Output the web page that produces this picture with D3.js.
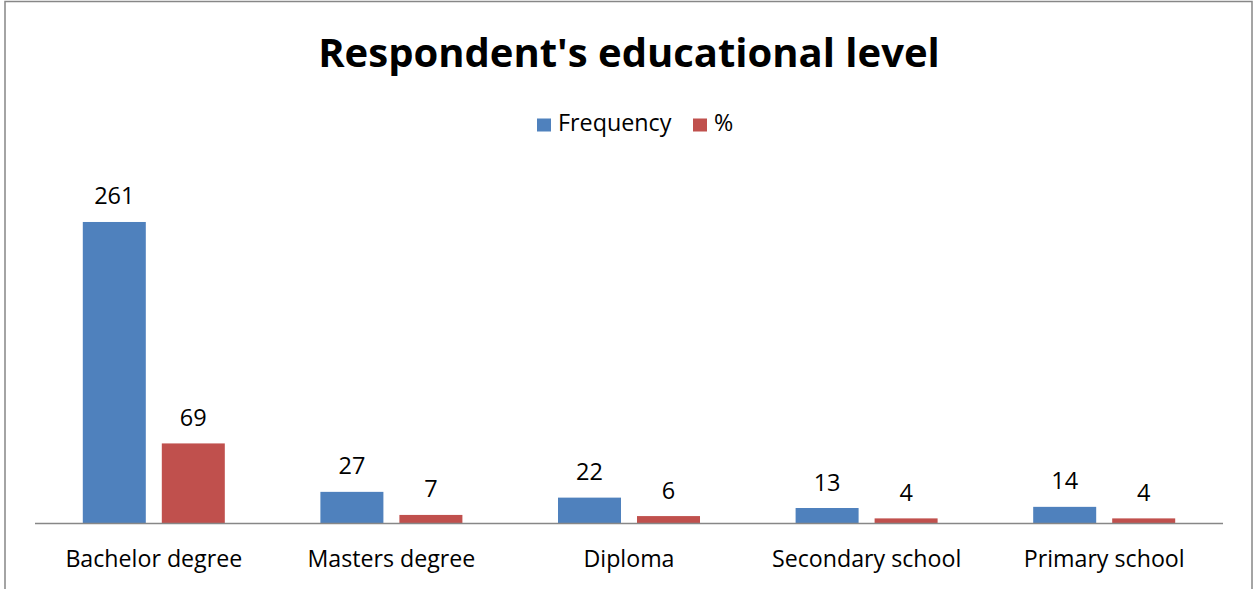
<!DOCTYPE html>
<html>
<head>
<meta charset="utf-8">
<script src="https://cdn.jsdelivr.net/npm/d3@7"></script>
<style>
  html, body { margin: 0; padding: 0; background: #fff; }
  svg { display: block; font-family: "Open Sans", Lato, sans-serif; }
</style>
</head>
<body>
<svg id="chart" width="1254" height="589"></svg>
<script>
const categories = ["Bachelor degree", "Masters degree", "Diploma", "Secondary school", "Primary school"];
const seriesNames = ["Frequency", "%"];
const frequency = [261, 27, 22, 13, 14];
const percent = [69, 7, 6, 4, 4];
const seriesColors = ["#4F81BD", "#C0504D"];

const svg = d3.select("#chart");
const FONT = "'Open Sans', Lato, sans-serif";

// chart frame
svg.append("rect")
  .attr("x", 5).attr("y", 1.5)
  .attr("width", 1247).attr("height", 600)
  .attr("fill", "#fff").attr("stroke", "#878787").attr("stroke-width", 1.5);

const plot = { left: 35, right: 1223, top: 177, bottom: 523 };

const x0 = d3.scaleBand().domain(categories).range([plot.left, plot.right]).padding(0);
const x1 = d3.scaleBand().domain(seriesNames).range([0, x0.bandwidth()])
  .paddingInner(0.2025).paddingOuter(0.605);
const y = d3.scaleLinear().domain([0, 300]).range([plot.bottom, plot.top]);

const rows = categories.map((c, i) => ({
  category: c,
  values: [
    { series: seriesNames[0], value: frequency[i], color: seriesColors[0] },
    { series: seriesNames[1], value: percent[i], color: seriesColors[1] }
  ]
}));

const groups = svg.append("g").selectAll("g")
  .data(rows).join("g")
  .attr("transform", d => `translate(${x0(d.category)},0)`);

groups.selectAll("rect")
  .data(d => d.values).join("rect")
  .attr("x", d => x1(d.series))
  .attr("y", d => y(d.value))
  .attr("width", x1.bandwidth())
  .attr("height", d => y(0) - y(d.value))
  .attr("fill", d => d.color);

// value labels above each bar
groups.selectAll("text.val")
  .data(d => d.values).join("text")
  .attr("class", "val")
  .attr("x", d => x1(d.series) + x1.bandwidth() / 2)
  .attr("y", d => y(d.value) - 17.5)
  .attr("text-anchor", "middle")
  .attr("font-size", 23.5)
  .attr("fill", "#000")
  .text(d => d.value);

// category axis
const xAxis = svg.append("g")
  .attr("transform", `translate(0,${plot.bottom})`)
  .call(d3.axisBottom(x0).tickSize(0).tickPadding(0));
xAxis.select(".domain").attr("stroke", "#878787").attr("stroke-width", 1.5)
  .attr("d", `M${plot.left},0.5H${plot.right}`);
xAxis.selectAll(".tick text")
  .attr("font-size", 23.2)
  .attr("font-family", FONT)
  .attr("fill", "#000")
  .attr("dy", null)
  .attr("y", 44);

// title
svg.append("text")
  .attr("x", 629).attr("y", 67)
  .attr("text-anchor", "middle")
  .attr("font-size", 40)
  .attr("font-weight", "bold")
  .attr("fill", "#000")
  .text("Respondent's educational level");

// legend
const legendItems = [
  { name: seriesNames[0], color: seriesColors[0], x: 537 },
  { name: seriesNames[1], color: seriesColors[1], x: 693 }
];
const legend = svg.append("g").selectAll("g")
  .data(legendItems).join("g")
  .attr("transform", d => `translate(${d.x},118.5)`);
legend.append("rect")
  .attr("width", 14).attr("height", 13)
  .attr("fill", d => d.color);
legend.append("text")
  .attr("x", 21).attr("y", 12.5)
  .attr("font-size", 23.3)
  .attr("fill", "#000")
  .text(d => d.name);
</script>
</body>
</html>
